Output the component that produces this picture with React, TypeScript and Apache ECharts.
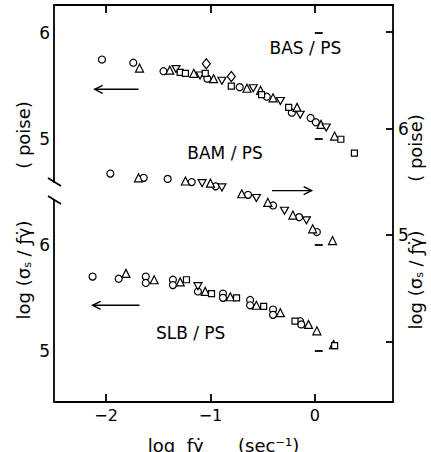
import React, { useEffect, useRef } from "react";
import * as echarts from "echarts";

// ---- axis ticks / labels ----
const X_TICKS = [-2, -1, 0];
const LEFT_TICKS = [5, 6];
const RIGHT_TICKS = [4, 5, 6, 6.91];
const RIGHT_LABELS = [5, 6];

// ---- BAS/PS (upper left scale) ----
const basCircle = [[-2.04, 5.75], [-1.74, 5.72], [-1.45, 5.64], [-1.03, 5.57], [-0.72, 5.49], [-0.46, 5.40], [-0.22, 5.25], [-0.04, 5.20], [0.01, 5.16]];
const basTriangle = [[-1.68, 5.67], [-1.39, 5.65], [-1.16, 5.62], [-0.97, 5.57], [-0.65, 5.48], [-0.52, 5.46], [-0.40, 5.39], [-0.17, 5.30], [0.06, 5.14], [0.19, 5.03]];
const basInvTri = [[-1.33, 5.66], [-1.10, 5.60], [-0.89, 5.55], [-0.59, 5.48], [-0.33, 5.36], [-0.14, 5.23], [0.11, 5.11]];
const basSquare = [[-1.29, 5.63], [-1.24, 5.62], [-1.05, 5.62], [-0.80, 5.50], [-0.51, 5.42], [-0.25, 5.30], [0.25, 5.00], [0.38, 4.87]];
const basDiamond = [[-1.04, 5.71], [-0.80, 5.59]];

// ---- BAM/PS (right scale) ----
const bamCircle = [[-1.96, 5.58], [-1.64, 5.54], [-1.41, 5.53], [-1.18, 5.50], [-0.95, 5.46], [-0.64, 5.38], [-0.40, 5.28], [-0.15, 5.17], [0.02, 5.03]];
const bamTriangle = [[-1.69, 5.54], [-1.24, 5.51], [-1.00, 5.49], [-0.70, 5.39], [-0.45, 5.31], [-0.21, 5.19], [-0.02, 5.06], [0.17, 4.95]];
const bamInvTri = [[-1.08, 5.49], [-0.89, 5.45], [-0.56, 5.35], [-0.29, 5.23], [-0.08, 5.14]];

// ---- SLB/PS (lower left scale) ----
const slbCircle = [[-2.13, 5.70], [-1.88, 5.68], [-1.62, 5.70], [-1.62, 5.64], [-1.36, 5.67], [-1.36, 5.62], [-1.12, 5.56], [-0.88, 5.54], [-0.88, 5.50], [-0.62, 5.48], [-0.62, 5.43], [-0.40, 5.39], [-0.40, 5.34], [-0.14, 5.28], [-0.13, 5.25]];
const slbTriangle = [[-1.81, 5.73], [-1.54, 5.67], [-1.29, 5.65], [-1.05, 5.56], [-0.81, 5.51], [-0.56, 5.43], [-0.33, 5.36], [-0.06, 5.25], [0.02, 5.19], [0.18, 5.06]];
const slbSquare = [[-1.23, 5.67], [-0.99, 5.54], [-0.75, 5.50], [-0.49, 5.42], [-0.19, 5.28], [0.19, 5.05]];
const slbInvTri = [[-1.12, 5.61]];

// ---- annotations (data coords) ----
const labels = [
  { text: "BAS / PS", x: -0.09, y: 5.86, axis: 1 },
  { text: "BAM / PS", x: -0.86, y: 5.77, axis: 2 },
  { text: "SLB / PS", x: -1.19, y: 5.17, axis: 0 },
];
const arrows = [
  { from: [-1.69, 5.47], to: [-2.11, 5.47], axis: 1 },
  { from: [-0.41, 5.42], to: [-0.03, 5.42], axis: 2 },
  { from: [-1.68, 5.43], to: [-2.13, 5.43], axis: 0 },
];

const FONT = "DejaVu Sans";
const W = 431, H = 452;
const GL = 54, GR = 393, GT = 5, GB = 402;
const LW = 1.8;

const INV_TRI = "path://M0,0 L10,0 L5,8.66 Z";

function mk(data: number[][], symbol: string, size: any, yAxisIndex: number) {
  return {
    type: "scatter",
    xAxisIndex: 0,
    yAxisIndex,
    data,
    symbol,
    symbolSize: size,
    itemStyle: { color: "#fff", borderColor: "#000", borderWidth: 1.2, opacity: 1 },
    emphasis: { disabled: true },
    z: 3,
  };
}

export default function App() {
  const ref = useRef<HTMLDivElement>(null);
  useEffect(() => {
    const chart = echarts.init(ref.current!, null, { renderer: "svg" });
    const lineStyle = { color: "#000", width: LW };
    const yLeftBase = (min: number, max: number) => ({
      type: "value",
      position: "left",
      min,
      max,
      axisLine: { show: false },
      axisTick: { show: true, inside: true, length: 8, customValues: LEFT_TICKS, lineStyle },
      axisLabel: { show: true, customValues: LEFT_TICKS, fontSize: 17, color: "#000", fontFamily: FONT, margin: 4 },
      splitLine: { show: false },
    });
    const option: any = {
      animation: false,
      backgroundColor: "#fff",
      textStyle: { fontFamily: FONT },
      grid: { left: GL, right: W - GR, top: GT, bottom: H - GB, outerBoundsMode: "none", containLabel: false },
      xAxis: [
        {
          type: "value",
          position: "bottom",
          min: -2.5,
          max: 0.75,
          axisLine: { show: true, onZero: false, lineStyle },
          axisTick: { show: true, inside: true, length: 8, customValues: X_TICKS, lineStyle },
          axisLabel: {
            customValues: X_TICKS,
            fontSize: 16,
            color: "#000",
            fontFamily: FONT,
            margin: 5,
            formatter: (v: number) => (v < 0 ? "\u2212" + Math.abs(v) : String(v)),
          },
          splitLine: { show: false },
          name: "log  \u0192\u03B3\u0307      (sec\u207B\u00B9)",
          nameLocation: "middle",
          nameGap: 34,
          nameTextStyle: { fontSize: 18, color: "#000", fontFamily: FONT },
        },
        {
          type: "value",
          position: "top",
          min: -2.5,
          max: 0.75,
          axisLine: { show: true, onZero: false, lineStyle },
          axisTick: { show: true, inside: true, length: 8, customValues: X_TICKS, lineStyle },
          axisLabel: { show: false },
          splitLine: { show: false },
        },
      ],
      yAxis: [
        yLeftBase(4.52, 8.255),
        yLeftBase(2.528, 6.263),
        {
          type: "value",
          position: "right",
          min: 3.431,
          max: 7.166,
          axisLine: { show: true, onZero: false, lineStyle },
          axisTick: { show: true, inside: true, length: 7, customValues: RIGHT_TICKS, lineStyle },
          axisLabel: { show: true, customValues: RIGHT_LABELS, fontSize: 17, color: "#000", fontFamily: FONT, margin: 5 },
          splitLine: { show: false },
        },
      ],
      series: [
        mk(basCircle, "circle", 7, 1),
        mk(basTriangle, "triangle", 8, 1),
        mk(basInvTri, INV_TRI, [8, 7], 1),
        mk(basSquare, "rect", 6, 1),
        mk(basDiamond, "diamond", [8, 10], 1),
        mk(bamCircle, "circle", 7, 2),
        mk(bamTriangle, "triangle", 8, 2),
        mk(bamInvTri, INV_TRI, [8, 7], 2),
        mk(slbCircle, "circle", 7, 0),
        mk(slbTriangle, "triangle", 8, 0),
        mk(slbSquare, "rect", 6, 0),
        mk(slbInvTri, INV_TRI, [8, 7], 0),
      ],
    };
    chart.setOption(option);

    const px = (axis: number, p: number[]) =>
      chart.convertToPixel({ xAxisIndex: 0, yAxisIndex: axis } as any, p) as number[];

    const graphics: any[] = [];
    // left axis line with break
    const blk = { stroke: "#000", lineWidth: LW };
    graphics.push({ type: "line", shape: { x1: GL, y1: GT, x2: GL, y2: 183 }, style: blk });
    graphics.push({ type: "line", shape: { x1: 48, y1: 178, x2: 61, y2: 186 }, style: blk });
    graphics.push({ type: "line", shape: { x1: GL, y1: 199, x2: GL, y2: GB }, style: blk });
    graphics.push({ type: "line", shape: { x1: 48, y1: 196, x2: 61, y2: 204 }, style: blk });

    // dataset labels
    labels.forEach((l) => {
      const [x, y] = px(l.axis, [l.x, l.y]);
      graphics.push({
        type: "text",
        x,
        y,
        style: { text: l.text, fill: "#000", fontSize: 17, fontFamily: FONT, align: "center", verticalAlign: "middle", textAlign: "center", textVerticalAlign: "middle" },
      });
    });

    // arrows
    arrows.forEach((a) => {
      const [x1, y1] = px(a.axis, a.from);
      const [x2, y2] = px(a.axis, a.to);
      const dir = Math.sign(x2 - x1);
      graphics.push({ type: "line", shape: { x1, y1, x2, y2 }, style: { stroke: "#000", lineWidth: 1.4 } });
      graphics.push({
        type: "polyline",
        shape: { points: [[x2 - dir * 8, y2 - 4], [x2, y2], [x2 - dir * 8, y2 + 4]] },
        style: { stroke: "#000", lineWidth: 1.4, fill: "none" },
      });
    });

    // rotated axis titles
    const title = (text: string, x: number, y: number, rich?: boolean) => ({
      type: "text",
      x,
      y,
      rotation: Math.PI / 2,
      style: {
        text,
        fill: "#000",
        fontSize: 18,
        fontFamily: FONT,
        align: "center",
        verticalAlign: "middle",
        textAlign: "center",
        textVerticalAlign: "middle",
        rich: rich
          ? { s: { fontSize: 11, fontFamily: FONT, fill: "#000", padding: [9, 0, 0, 0] } }
          : undefined,
      },
    });
    const sigmaTitle = "log (\u03C3{s|s} / \u0192\u03B3\u0307)";
    graphics.push(title("( poise)", 23, 135));
    graphics.push(title(sigmaTitle, 23, 270, true));
    graphics.push(title("( poise)", 415, 148));
    graphics.push(title(sigmaTitle, 415, 280, true));

    chart.setOption({ graphic: graphics });
    return () => chart.dispose();
  }, []);
  return (
    <div
      ref={ref}
      style={{ position: "fixed", left: 0, top: 0, width: W, height: H, background: "#fff" }}
    />
  );
}
